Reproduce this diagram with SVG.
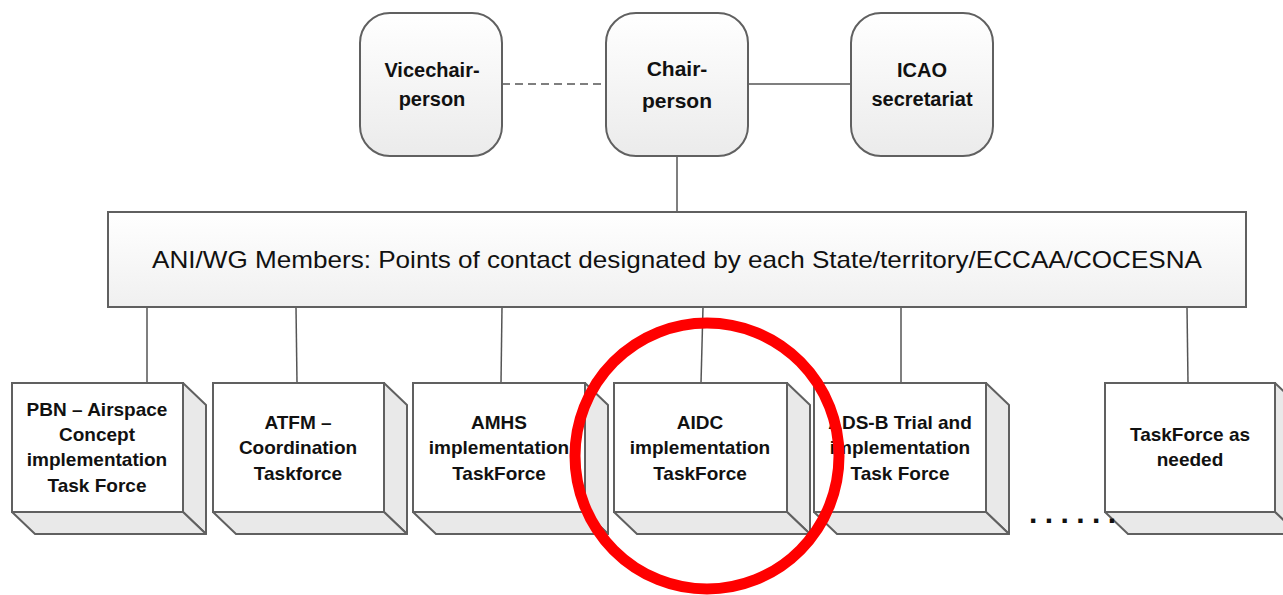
<svg xmlns="http://www.w3.org/2000/svg" width="1283" height="595" viewBox="0 0 1283 595">
<defs>
<linearGradient id="gTop" x1="0" y1="0" x2="0" y2="1">
<stop offset="0" stop-color="#ffffff"/><stop offset="1" stop-color="#ebebeb"/>
</linearGradient>
<linearGradient id="gWide" x1="0" y1="0" x2="0" y2="1">
<stop offset="0" stop-color="#ffffff"/><stop offset="1" stop-color="#f0f0f0"/>
</linearGradient>
</defs>
<style>
.rbox{fill:url(#gTop);stroke:#606060;stroke-width:2}
.wide{fill:url(#gWide);stroke:#606060;stroke-width:2}
.front{fill:#ffffff;stroke:#606060;stroke-width:2}
.side{fill:#e9e9e9;stroke:#606060;stroke-width:2;stroke-linejoin:round}
.conn{stroke:#555;stroke-width:1.5;fill:none}
.dash{stroke-dasharray:8,5}
.tb{font-family:"Liberation Sans",Arial,sans-serif;font-weight:bold;fill:#111;text-anchor:middle}
.tw{font-family:"Liberation Sans",Arial,sans-serif;font-size:24px;fill:#111;text-anchor:middle}
</style>

<g id="connectors">
<line class="conn dash" x1="502" y1="84" x2="606" y2="84"/>
<line class="conn" x1="748" y1="84" x2="851" y2="84"/>
<line class="conn" x1="677" y1="156" x2="677" y2="212"/>
<line class="conn" x1="147" y1="307" x2="147" y2="383"/>
<line class="conn" x1="296" y1="307" x2="297" y2="383"/>
<line class="conn" x1="502" y1="307" x2="501" y2="383"/>
<line class="conn" x1="703" y1="307" x2="701" y2="383"/>
<line class="conn" x1="901" y1="307" x2="901" y2="383"/>
<line class="conn" x1="1187" y1="307" x2="1188" y2="383"/>
</g>

<g id="vicechair">
<rect class="rbox" x="360" y="13" width="142" height="143" rx="30" ry="30"/>
<text class="tb" font-size="20" x="432" y="77">Vicechair-</text>
<text class="tb" font-size="20" x="432" y="106">person</text>
</g>
<g id="chair">
<rect class="rbox" x="606" y="13" width="142" height="143" rx="30" ry="30"/>
<text class="tb" font-size="21" x="677" y="76">Chair-</text>
<text class="tb" font-size="21" x="677" y="108">person</text>
</g>
<g id="icao">
<rect class="rbox" x="851" y="13" width="142" height="143" rx="30" ry="30"/>
<text class="tb" font-size="20" x="922" y="77">ICAO</text>
<text class="tb" font-size="20" x="922" y="106">secretariat</text>
</g>

<g id="members">
<rect class="wide" x="108" y="212" width="1138" height="95"/>
<text class="tw" x="677" y="268" textLength="1050" lengthAdjust="spacingAndGlyphs">ANI/WG Members: Points of contact designated by each State/territory/ECCAA/COCESNA</text>
</g>

<g id="pbn">
<path class="side" d="M183,383 L206,405 L206,534 L183,512 Z"/>
<path class="side" d="M12,512 L183,512 L206,534 L35,534 Z"/>
<rect class="front" x="12" y="383" width="171" height="129"/>
<text class="tb" font-size="19" x="97" y="416">PBN – Airspace</text>
<text class="tb" font-size="19" x="97" y="441">Concept</text>
<text class="tb" font-size="19" x="97" y="466">implementation</text>
<text class="tb" font-size="19" x="97" y="492">Task Force</text>
</g>
<g id="atfm">
<path class="side" d="M384,383 L407,405 L407,534 L384,512 Z"/>
<path class="side" d="M213,512 L384,512 L407,534 L236,534 Z"/>
<rect class="front" x="213" y="383" width="171" height="129"/>
<text class="tb" font-size="19" x="298" y="429">ATFM –</text>
<text class="tb" font-size="19" x="298" y="454">Coordination</text>
<text class="tb" font-size="19" x="298" y="480">Taskforce</text>
</g>
<g id="amhs">
<path class="side" d="M585,383 L608,405 L608,534 L585,512 Z"/>
<path class="side" d="M413,512 L585,512 L608,534 L436,534 Z"/>
<rect class="front" x="413" y="383" width="172" height="129"/>
<text class="tb" font-size="19" x="499" y="429">AMHS</text>
<text class="tb" font-size="19" x="499" y="454">implementation</text>
<text class="tb" font-size="19" x="499" y="480">TaskForce</text>
</g>
<g id="aidc">
<path class="side" d="M787,383 L810,405 L810,534 L787,512 Z"/>
<path class="side" d="M614,512 L787,512 L810,534 L637,534 Z"/>
<rect class="front" x="614" y="383" width="173" height="129"/>
<text class="tb" font-size="19" x="700" y="429">AIDC</text>
<text class="tb" font-size="19" x="700" y="454">implementation</text>
<text class="tb" font-size="19" x="700" y="480">TaskForce</text>
</g>
<g id="adsb">
<path class="side" d="M986,383 L1009,405 L1009,534 L986,512 Z"/>
<path class="side" d="M814,512 L986,512 L1009,534 L837,534 Z"/>
<rect class="front" x="814" y="383" width="172" height="129"/>
<text class="tb" font-size="19" x="900" y="429">ADS-B Trial and</text>
<text class="tb" font-size="19" x="900" y="454">implementation</text>
<text class="tb" font-size="19" x="900" y="480">Task Force</text>
</g>
<g id="asneeded">
<path class="side" d="M1275,383 L1298,405 L1298,534 L1275,512 Z"/>
<path class="side" d="M1105,512 L1275,512 L1298,534 L1128,534 Z"/>
<rect class="front" x="1105" y="383" width="170" height="129"/>
<text class="tb" font-size="19" x="1190" y="441">TaskForce as</text>
<text class="tb" font-size="19" x="1190" y="466">needed</text>
</g>

<text id="dots" font-family="Liberation Sans, Arial, sans-serif" font-weight="bold" font-size="30" fill="#111" x="1029" y="523" letter-spacing="7.4">......</text>

<ellipse id="highlight" cx="707" cy="456" rx="132" ry="133" fill="none" stroke="#ff0000" stroke-width="11"/>
</svg>
